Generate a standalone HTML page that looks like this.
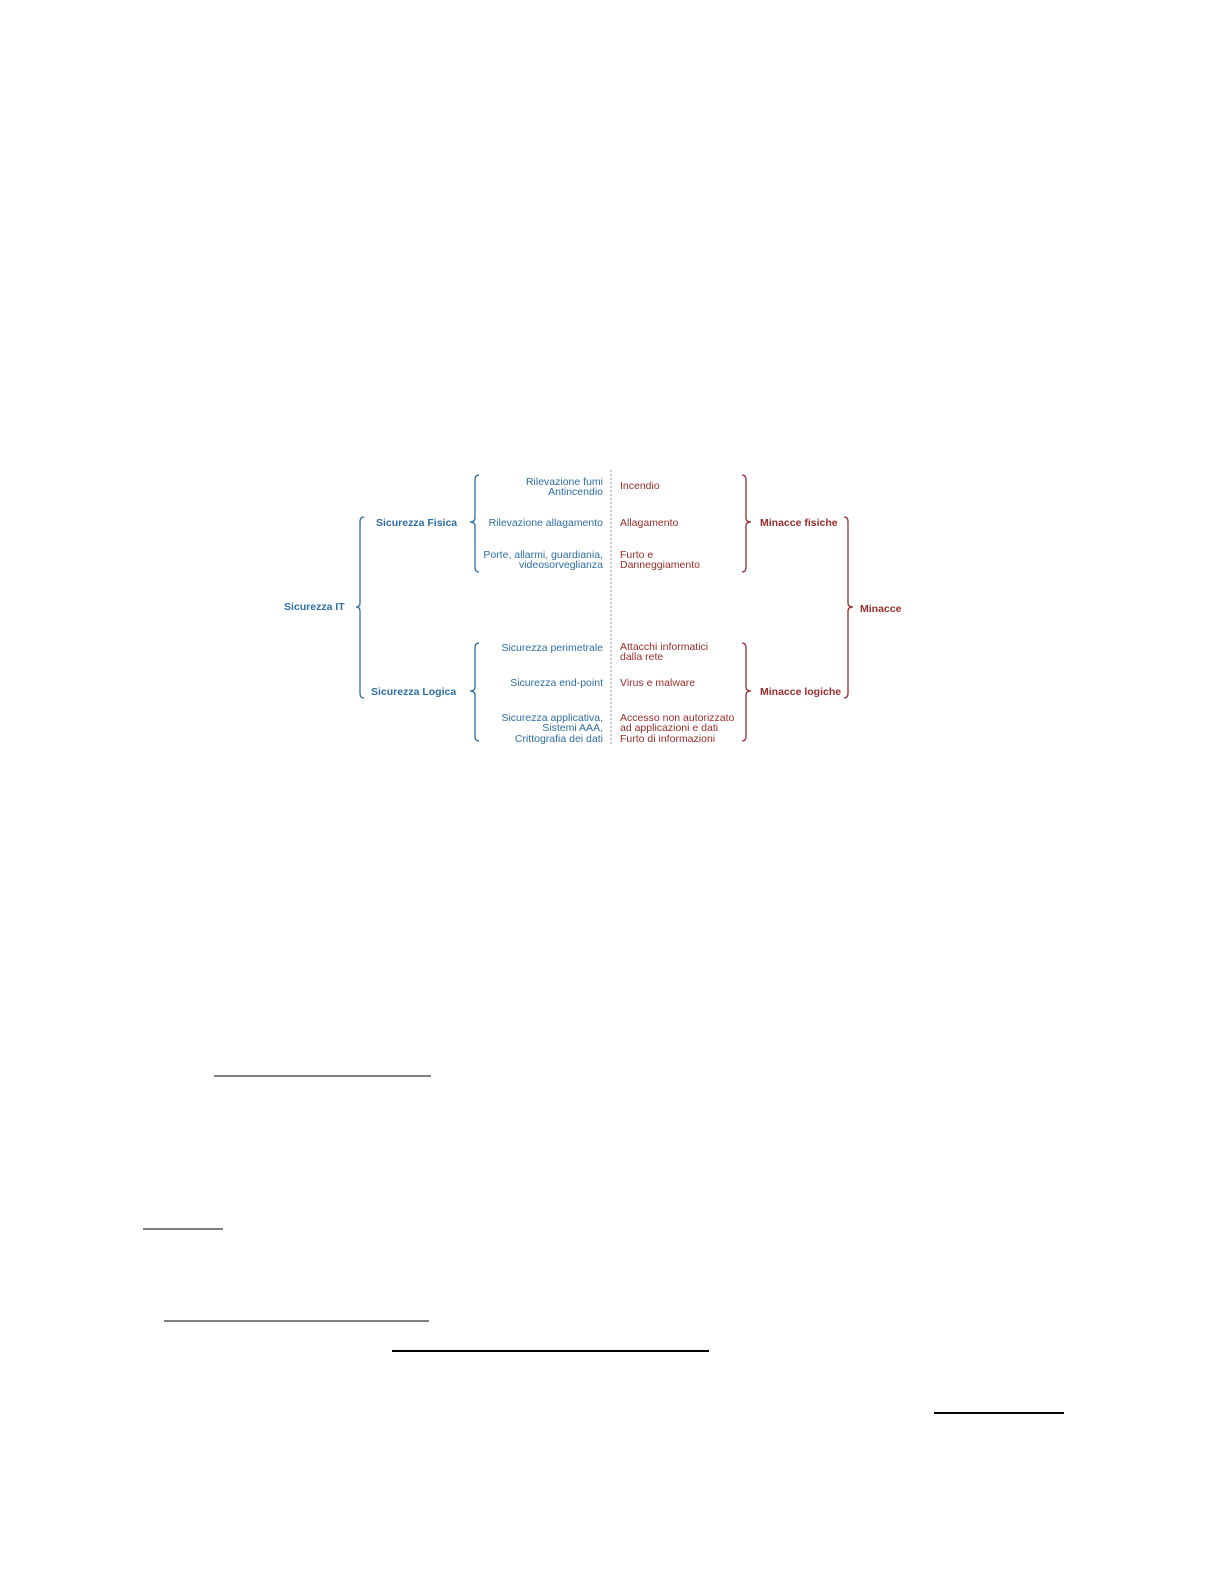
<!DOCTYPE html>
<html><head><meta charset="utf-8"><style>
html,body{margin:0;padding:0;background:#fff;}
svg{display:block}
text{font-family:"Liberation Sans",Arial,sans-serif;font-size:10.5px}
.b{fill:#2f6ea3}.r{fill:#9a2c2c}.bb{font-weight:bold}
</style></head><body>
<svg width="1224" height="1584" viewBox="0 0 1224 1584" xmlns="http://www.w3.org/2000/svg">
<rect width="1224" height="1584" fill="#fff"/>
<g fill="none" stroke-width="1.3">
<path stroke="#2f6ea3" d="M364,517 Q360,517 360,522 L360,603 Q360,607 356,607 Q360,607 360,611 L360,693 Q360,698 364,698"/>
<path stroke="#2f6ea3" d="M479,475 Q475,475 475,480 L475,518 Q475,522 470,522 Q475,522 475,526 L475,567 Q475,572 479,572"/>
<path stroke="#2f6ea3" d="M479,643 Q475,643 475,648 L475,687 Q475,691 470,691 Q475,691 475,695 L475,736 Q475,741 479,741"/>
<path stroke="#9a2c2c" d="M742,475 Q746,475 746,480 L746,518 Q746,522 751,522 Q746,522 746,526 L746,567 Q746,572 742,572"/>
<path stroke="#9a2c2c" d="M742,643 Q746,643 746,648 L746,687 Q746,691 751,691 Q746,691 746,695 L746,736 Q746,741 742,741"/>
<path stroke="#9a2c2c" d="M844,517 Q848,517 848,522 L848,603 Q848,607 853,607 Q848,607 848,611 L848,693 Q848,698 844,698"/>
<line x1="611" y1="470" x2="611" y2="746" stroke="#999" stroke-dasharray="2,2" stroke-width="1"/>
</g>
<text class="b bb" x="284" y="610">Sicurezza IT</text>
<text class="b bb" x="376" y="526">Sicurezza Fisica</text>
<text class="b bb" x="371" y="695">Sicurezza Logica</text>
<g class="b" text-anchor="end">
<text x="603" y="485">Rilevazione fumi</text>
<text x="603" y="495">Antincendio</text>
<text x="603" y="526">Rilevazione allagamento</text>
<text x="603" y="558">Porte, allarmi, guardiania,</text>
<text x="603" y="568">videosorveglianza</text>
<text x="603" y="651">Sicurezza perimetrale</text>
<text x="603" y="686">Sicurezza end-point</text>
<text x="603" y="721">Sicurezza applicativa,</text>
<text x="603" y="731">Sistemi AAA,</text>
<text x="603" y="742">Crittografia dei dati</text>
</g>
<g class="r">
<text x="620" y="489">Incendio</text>
<text x="620" y="526">Allagamento</text>
<text x="620" y="558">Furto e</text>
<text x="620" y="568">Danneggiamento</text>
<text x="620" y="650">Attacchi informatici</text>
<text x="620" y="660">dalla rete</text>
<text x="620" y="686">Virus e malware</text>
<text x="620" y="721">Accesso non autorizzato</text>
<text x="620" y="731">ad applicazioni e dati</text>
<text x="620" y="742">Furto di informazioni</text>
<text class="bb" x="760" y="526">Minacce fisiche</text>
<text class="bb" x="760" y="695">Minacce logiche</text>
<text class="bb" x="860" y="612">Minacce</text>
</g>
<g stroke="#000">
<line x1="214" y1="1076" x2="431" y2="1076" stroke-width="1"/>
<line x1="143" y1="1229" x2="223" y2="1229" stroke-width="1"/>
<line x1="164" y1="1321" x2="429" y2="1321" stroke-width="1"/>
<line x1="392" y1="1351" x2="709" y2="1351" stroke-width="2"/>
<line x1="934" y1="1413" x2="1064" y2="1413" stroke-width="2"/>
</g>
</svg>
</body></html>
